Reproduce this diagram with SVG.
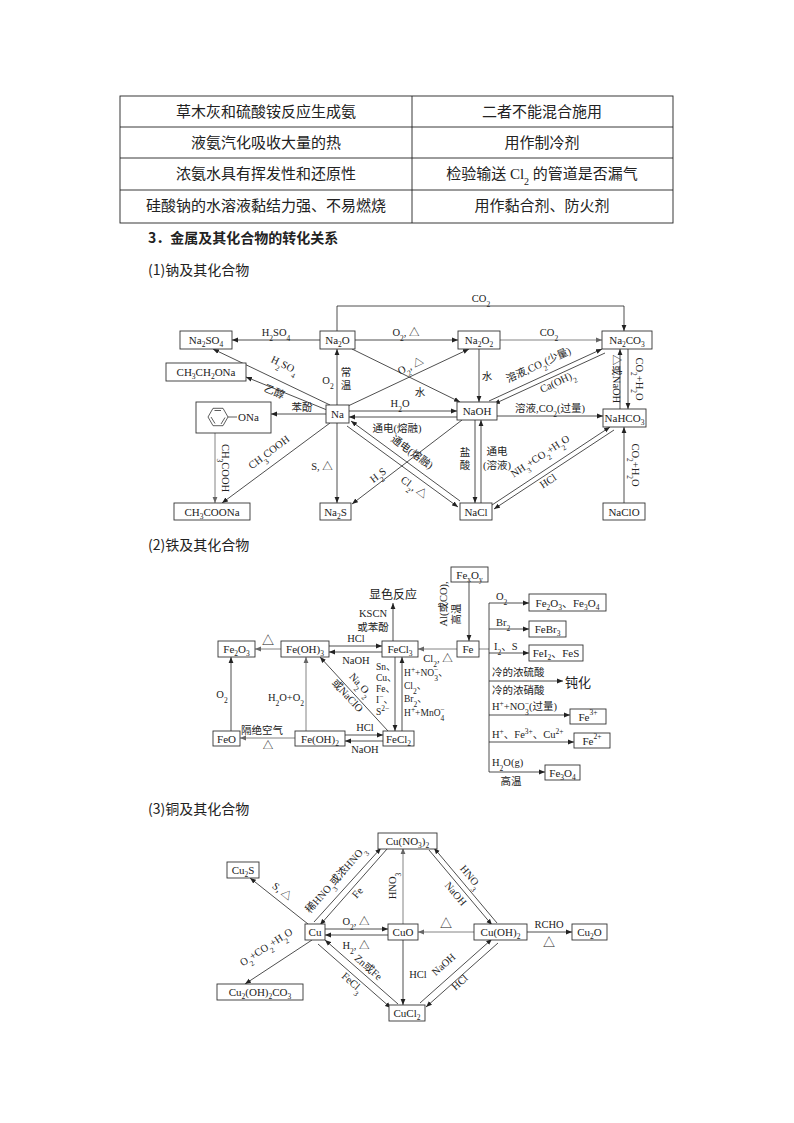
<svg xmlns="http://www.w3.org/2000/svg" width="794" height="1123" viewBox="0 0 794 1123">
<defs>
<marker id="a" viewBox="0 0 10 10" refX="10" refY="5" markerWidth="6" markerHeight="6" markerUnits="userSpaceOnUse" orient="auto"><path d="M0,1 L10,5 L0,9 Z" fill="#222"/></marker>
<marker id="g" viewBox="0 0 10 10" refX="10" refY="5" markerWidth="6" markerHeight="6" markerUnits="userSpaceOnUse" orient="auto"><path d="M0,1 L10,5 L0,9 Z" fill="#666"/></marker>
</defs>
<style>
text{font-family:"Liberation Serif","Noto Sans CJK SC",serif;font-size:10.5px;fill:#222}
.t{text-anchor:middle;dominant-baseline:central;font-size:11px}
.m{text-anchor:middle}
.cj{font-family:"Noto Sans CJK SC",sans-serif;font-size:15px}
.h{font-family:"Noto Sans CJK SC",sans-serif;font-size:14px}
.s{font-size:7.5px;baseline-shift:sub}
.p{font-size:7.5px;baseline-shift:super}
.sm{font-size:9.5px}
rect.b{fill:#fff;stroke:#333;stroke-width:0.9}
.c line,.c polyline,.c path{stroke:#222;stroke-width:0.8;fill:none;marker-end:url(#a)}
.c .gr{stroke:#666;marker-end:url(#g)}
.c .n{marker-end:none}
</style>
<rect width="794" height="1123" fill="#fff"/>
<g id="table" fill="none" stroke="#222" stroke-width="0.9">
<rect x="120" y="96" width="553" height="127"/>
<line x1="120" y1="127" x2="673" y2="127"/><line x1="120" y1="158" x2="673" y2="158"/><line x1="120" y1="190" x2="673" y2="190"/>
<line x1="412" y1="96" x2="412" y2="223"/>
</g>
<g id="table-text" class="cj">
<text x="266" y="117" class="m" style="font-size:15px">草木灰和硫酸铵反应生成氨</text>
<text x="542" y="117" class="m" style="font-size:15px">二者不能混合施用</text>
<text x="266" y="148" class="m" style="font-size:15px">液氨汽化吸收大量的热</text>
<text x="542" y="148" class="m" style="font-size:15px">用作制冷剂</text>
<text x="266" y="179" class="m" style="font-size:15px">浓氨水具有挥发性和还原性</text>
<text x="542" y="179" class="m" style="font-size:15px">检验输送 <tspan style="font-family:'Liberation Serif'">Cl<tspan class="s" style="font-size:10px">2</tspan></tspan> 的管道是否漏气</text>
<text x="266" y="211" class="m" style="font-size:15px">硅酸钠的水溶液黏结力强、不易燃烧</text>
<text x="542" y="211" class="m" style="font-size:15px">用作黏合剂、防火剂</text>
</g>
<g id="headings">
<text x="148" y="243" class="h" style="font-weight:bold">3．金属及其化合物的转化关系</text>
<text x="148" y="275" class="h">(1)钠及其化合物</text>
<text x="148" y="550" class="h">(2)铁及其化合物</text>
<text x="148" y="814" class="h">(3)铜及其化合物</text>
</g>

<g id="na-connectors" class="c">
<polyline points="337,331 337,306 624,306 624,331"/>
<line x1="320" y1="340" x2="232" y2="340"/>
<line x1="355" y1="340" x2="458" y2="340"/>
<line class="gr" x1="500" y1="340" x2="602" y2="340"/>
<line x1="337" y1="405" x2="337" y2="349"/>
<line x1="348" y1="406" x2="469" y2="349"/>
<line x1="352" y1="349" x2="460" y2="402"/>
<line x1="479" y1="349" x2="479" y2="402"/>
<line x1="330" y1="405" x2="213" y2="349"/>
<line x1="327" y1="410" x2="246" y2="377"/>
<line x1="326" y1="414" x2="271" y2="414"/>
<line x1="330" y1="423" x2="222" y2="503"/>
<line class="gr" x1="215" y1="433" x2="215" y2="503"/>
<line x1="337" y1="423" x2="337" y2="503"/>
<line x1="349" y1="411" x2="457" y2="411"/>
<line x1="457" y1="417" x2="349" y2="417"/>
<line x1="460" y1="501" x2="351" y2="421"/>
<line x1="347" y1="426" x2="458" y2="507"/>
<line x1="462" y1="420" x2="352" y2="504"/>
<line x1="475" y1="420" x2="475" y2="503"/>
<line x1="481" y1="503" x2="481" y2="420"/>
<line x1="497" y1="416" x2="603" y2="416"/>
<line x1="489" y1="401" x2="602" y2="349"/>
<line x1="605" y1="353" x2="494" y2="404"/>
<line x1="620" y1="409" x2="620" y2="349"/>
<line x1="628" y1="349" x2="628" y2="409"/>
<line x1="492" y1="505" x2="610" y2="427"/>
<line x1="614" y1="430" x2="494" y2="509"/>
<line x1="624" y1="503" x2="624" y2="427"/>
</g>
<g id="na-labels">
<text x="481" y="302" class="m">CO<tspan class="s">2</tspan></text>
<text x="276" y="336" class="m">H<tspan class="s">2</tspan>SO<tspan class="s">4</tspan></text>
<text x="406" y="336" class="m">O<tspan class="s">2</tspan>, △</text>
<text x="549" y="336" class="m">CO<tspan class="s">2</tspan></text>
<text x="328" y="384" class="m">O<tspan class="s">2</tspan></text>
<text x="346" y="376" class="m">常</text><text x="346" y="389" class="m">温</text>
<text class="m" transform="translate(412,369) rotate(-25)">O<tspan class="s">2</tspan>, △</text>
<text x="420" y="396" class="m">水</text>
<text x="487" y="380" class="m">水</text>
<text class="m" transform="translate(283,368) rotate(26)">H<tspan class="s">2</tspan>SO<tspan class="s">4</tspan></text>
<text class="m" transform="translate(273,395) rotate(22)">乙醇</text>
<text x="302" y="411" class="m">苯酚</text>
<text class="m" transform="translate(271,455) rotate(-37)">CH<tspan class="s">3</tspan>COOH</text>
<text class="m" transform="translate(222,468) rotate(90)">CH<tspan class="s">3</tspan>COOH</text>
<text x="322" y="470" class="m">S, △</text>
<text x="400" y="407" class="m">H<tspan class="s">2</tspan>O</text>
<text x="397" y="432" class="m">通电(熔融)</text>
<text class="m" transform="translate(410,455) rotate(36)">通电(熔融)</text>
<text class="m" transform="translate(412,490) rotate(36)">Cl<tspan class="s">2</tspan>, △</text>
<text class="m" transform="translate(380,478) rotate(-37)">H<tspan class="s">2</tspan>S</text>
<text x="465" y="456" class="m">盐</text><text x="465" y="469" class="m">酸</text>
<text x="497" y="455" class="m">通电</text><text x="497" y="469" class="m">(溶液)</text>
<text x="550" y="412" class="m">溶液,CO<tspan class="s">2</tspan>(过量)</text>
<text class="m" transform="translate(540,368) rotate(-25)">溶液,CO<tspan class="s">2</tspan>(少量)</text>
<text class="m" transform="translate(559,385) rotate(-25)">Ca(OH)<tspan class="s">2</tspan></text>
<text class="m" transform="translate(613,379) rotate(90)">△或NaOH</text>
<text class="m" transform="translate(636,379) rotate(90)">CO<tspan class="s">2</tspan>+H<tspan class="s">2</tspan>O</text>
<text class="m" transform="translate(542,459) rotate(-33.5)">NH<tspan class="s">3</tspan>+CO<tspan class="s">2</tspan>+H<tspan class="s">2</tspan>O</text>
<text class="m" transform="translate(550,484) rotate(-33.5)">HCl</text>
<text class="m" transform="translate(632,465) rotate(90)">CO<tspan class="s">2</tspan>+H<tspan class="s">2</tspan>O</text>
</g>
<g id="Na2SO4"><rect class="b" x="180" y="331" width="52" height="18"/><text class="t" x="206" y="340">Na<tspan class="s">2</tspan>SO<tspan class="s">4</tspan></text></g>
<g id="Na2O"><rect class="b" x="320" y="331" width="35" height="18"/><text class="t" x="337.5" y="340">Na<tspan class="s">2</tspan>O</text></g>
<g id="Na2O2"><rect class="b" x="458" y="331" width="42" height="18"/><text class="t" x="479" y="340">Na<tspan class="s">2</tspan>O<tspan class="s">2</tspan></text></g>
<g id="Na2CO3"><rect class="b" x="602" y="331" width="50" height="18"/><text class="t" x="627" y="340">Na<tspan class="s">2</tspan>CO<tspan class="s">3</tspan></text></g>
<g id="CH3CH2ONa"><rect class="b" x="166" y="363" width="80" height="18"/><text class="t" x="206" y="372">CH<tspan class="s">3</tspan>CH<tspan class="s">2</tspan>ONa</text></g>
<g id="PhONa"><rect class="b" x="196" y="402" width="75" height="31"/>
<g fill="none" stroke="#333" stroke-width="0.8"><polygon points="228,417 223,408.3 213,408.3 208,417 213,425.7 223,425.7"/><line x1="221" y1="410.5" x2="214.5" y2="410.5"/><line x1="225" y1="417.5" x2="221" y2="424"/><line x1="211" y1="417" x2="215" y2="423.5"/><line x1="228" y1="417" x2="237" y2="417"/></g>
<text x="238" y="417" style="dominant-baseline:central;font-size:11px">ONa</text></g>
<g id="Na"><rect class="b" x="326" y="405" width="23" height="18"/><text class="t" x="337.5" y="414">Na</text></g>
<g id="NaOH"><rect class="b" x="457" y="402" width="40" height="18"/><text class="t" x="477" y="411">NaOH</text></g>
<g id="NaHCO3"><rect class="b" x="603" y="409" width="43" height="18"/><text class="t" x="624.5" y="418">NaHCO<tspan class="s">3</tspan></text></g>
<g id="CH3COONa"><rect class="b" x="174" y="503" width="76" height="17"/><text class="t" x="212" y="511.5">CH<tspan class="s">3</tspan>COONa</text></g>
<g id="Na2S"><rect class="b" x="320" y="503" width="31" height="17"/><text class="t" x="335.5" y="511.5">Na<tspan class="s">2</tspan>S</text></g>
<g id="NaCl"><rect class="b" x="460" y="503" width="32" height="17"/><text class="t" x="476" y="511.5">NaCl</text></g>
<g id="NaClO"><rect class="b" x="603" y="503" width="42" height="17"/><text class="t" x="624" y="511.5">NaClO</text></g>

<g id="fe-connectors" class="c">
<line x1="393" y1="641" x2="393" y2="603"/>
<line class="gr" x1="457" y1="649" x2="418" y2="649"/>
<line x1="329" y1="646" x2="382" y2="646"/>
<line x1="382" y1="652" x2="329" y2="652"/>
<line class="gr" x1="281" y1="649" x2="255" y2="649"/>
<line x1="231" y1="731" x2="231" y2="657"/>
<line class="gr" x1="306" y1="731" x2="306" y2="657"/>
<line class="gr" x1="295" y1="738" x2="240" y2="738"/>
<line x1="345" y1="735" x2="383" y2="735"/>
<line x1="383" y1="741" x2="345" y2="741"/>
<line x1="388" y1="731" x2="320" y2="657"/>
<line x1="395" y1="657" x2="395" y2="731"/>
<line x1="402" y1="731" x2="402" y2="657"/>
<line x1="469" y1="581" x2="469" y2="641"/>
<line class="gr n" x1="479" y1="649" x2="489" y2="649"/>
<line class="n" x1="489" y1="603" x2="489" y2="772"/>
<line x1="489" y1="603" x2="529" y2="603"/>
<line x1="489" y1="629" x2="529" y2="629"/>
<line x1="489" y1="653" x2="529" y2="653"/>
<line x1="489" y1="681" x2="563" y2="681"/>
<line x1="489" y1="715" x2="570" y2="715"/>
<line x1="489" y1="742" x2="574" y2="742"/>
<line x1="489" y1="772" x2="545" y2="772"/>
</g>
<g id="fe-labels">
<text x="393" y="599" class="m" style="font-size:12px">显色反应</text>
<text x="373" y="617" class="m">KSCN</text>
<text x="373" y="631" class="m">或苯酚</text>
<text x="438" y="662" class="m">Cl<tspan class="s">2</tspan>, △</text>
<text x="356" y="642" class="m">HCl</text>
<text x="356" y="664" class="m">NaOH</text>
<text x="268" y="645" class="m" style="font-size:12px">△</text>
<text x="222" y="698" class="m">O<tspan class="s">2</tspan></text>
<text x="286" y="701" class="m">H<tspan class="s">2</tspan>O+O<tspan class="s">2</tspan></text>
<text x="262" y="734" class="m">隔绝空气</text>
<text x="268" y="749" class="m">△</text>
<text x="365" y="731" class="m">HCl</text>
<text x="365" y="753" class="m">NaOH</text>
<text class="m" transform="translate(358,687) rotate(47)">Na<tspan class="s">2</tspan>O<tspan class="s">2</tspan></text>
<text class="m" transform="translate(345,698) rotate(47)">或NaClO</text>
<text x="376" y="670" class="sm">Sn、</text>
<text x="376" y="681" class="sm">Cu、</text>
<text x="376" y="692" class="sm">Fe、</text>
<text x="376" y="703" class="sm">I<tspan class="p">−</tspan>、</text>
<text x="376" y="715" class="sm">S<tspan class="p">2−</tspan></text>
<text x="404" y="676" class="sm">H<tspan class="p">+</tspan>+NO<tspan class="s">3</tspan><tspan class="p" dx="-4">−</tspan>、</text>
<text x="404" y="689" class="sm">Cl<tspan class="s">2</tspan>、</text>
<text x="404" y="702" class="sm">Br<tspan class="s">2</tspan>、</text>
<text x="404" y="716" class="sm">H<tspan class="p">+</tspan>+MnO<tspan class="s">4</tspan><tspan class="p" dx="-4">−</tspan></text>
<text class="m" transform="translate(447,604) rotate(-90)">Al(或CO),</text>
<text class="m" transform="translate(460,614) rotate(-90)">高温</text>
<text x="496" y="600">O<tspan class="s">2</tspan></text>
<text x="496" y="626">Br<tspan class="s">2</tspan></text>
<text x="494" y="650">I<tspan class="s">2</tspan>、S</text>
<text x="492" y="676">冷的浓硫酸</text>
<text x="492" y="694">冷的浓硝酸</text>
<text x="565" y="687" style="font-size:13px">钝化</text>
<text x="492" y="710">H<tspan class="p">+</tspan>+NO<tspan class="s">3</tspan><tspan class="p" dx="-4">−</tspan>(过量)</text>
<text x="492" y="738">H<tspan class="p">+</tspan>、Fe<tspan class="p">3+</tspan>、Cu<tspan class="p">2+</tspan></text>
<text x="492" y="766">H<tspan class="s">2</tspan>O(g)</text>
<text x="511" y="785" class="m">高温</text>
</g>
<g id="Fe2O3"><rect class="b" x="218" y="641" width="37" height="16"/><text class="t" x="236.5" y="649">Fe<tspan class="s">2</tspan>O<tspan class="s">3</tspan></text></g>
<g id="FeOH3"><rect class="b" x="281" y="641" width="48" height="16"/><text class="t" x="305" y="649">Fe(OH)<tspan class="s">3</tspan></text></g>
<g id="FeCl3"><rect class="b" x="382" y="641" width="36" height="16"/><text class="t" x="400" y="649">FeCl<tspan class="s">3</tspan></text></g>
<g id="Fe"><rect class="b" x="457" y="641" width="22" height="16"/><text class="t" x="468" y="649">Fe</text></g>
<g id="FexOy"><rect class="b" x="451" y="567" width="37" height="15"/><text class="t" x="469.5" y="574.5">Fe<tspan class="s">x</tspan>O<tspan class="s">y</tspan></text></g>
<g id="FeO"><rect class="b" x="213" y="731" width="27" height="15"/><text class="t" x="226.5" y="738.5">FeO</text></g>
<g id="FeOH2"><rect class="b" x="295" y="731" width="50" height="15"/><text class="t" x="320" y="738.5">Fe(OH)<tspan class="s">2</tspan></text></g>
<g id="FeCl2"><rect class="b" x="383" y="731" width="31" height="15"/><text class="t" x="398.5" y="738.5">FeCl<tspan class="s">2</tspan></text></g>
<g id="Fe2O3Fe3O4"><rect class="b" x="529" y="594" width="77" height="17"/><text class="t" x="567.5" y="602.5">Fe<tspan class="s">2</tspan>O<tspan class="s">3</tspan>、Fe<tspan class="s">3</tspan>O<tspan class="s">4</tspan></text></g>
<g id="FeBr3"><rect class="b" x="529" y="621" width="37" height="16"/><text class="t" x="547.5" y="629">FeBr<tspan class="s">3</tspan></text></g>
<g id="FeI2FeS"><rect class="b" x="529" y="645" width="54" height="16"/><text class="t" x="556" y="653">FeI<tspan class="s">2</tspan>、FeS</text></g>
<g id="Fe3plus"><rect class="b" x="570" y="709" width="36" height="15"/><text class="t" x="588" y="716.5">Fe<tspan class="p">3+</tspan></text></g>
<g id="Fe2plus"><rect class="b" x="574" y="733" width="36" height="15"/><text class="t" x="592" y="740.5">Fe<tspan class="p">2+</tspan></text></g>
<g id="Fe3O4"><rect class="b" x="545" y="765" width="35" height="15"/><text class="t" x="562.5" y="772.5">Fe<tspan class="s">3</tspan>O<tspan class="s">4</tspan></text></g>

<g id="cu-connectors" class="c">
<line x1="308" y1="924" x2="250" y2="878"/>
<line x1="314" y1="922" x2="381" y2="848"/>
<line x1="387" y1="849" x2="320" y2="925"/>
<line class="gr" x1="403" y1="924" x2="403" y2="848"/>
<line x1="497" y1="923" x2="434" y2="848"/>
<line x1="429" y1="850" x2="492" y2="925"/>
<line x1="325" y1="929" x2="388" y2="929"/>
<line x1="388" y1="935" x2="325" y2="935"/>
<line class="gr" x1="474" y1="932" x2="418" y2="932"/>
<line x1="527" y1="932" x2="572" y2="932"/>
<line x1="312" y1="940" x2="245" y2="984"/>
<line x1="398" y1="1004" x2="325" y2="940"/>
<line x1="318" y1="944" x2="391" y2="1008"/>
<line x1="403" y1="940" x2="403" y2="1005"/>
<line x1="420" y1="1003" x2="492" y2="939"/>
<line x1="498" y1="943" x2="426" y2="1007"/>
</g>
<g id="cu-labels">
<text class="m" transform="translate(280,894) rotate(38)">S, △</text>
<text class="m" transform="translate(338,882) rotate(-48.6)">稀HNO<tspan class="s">3</tspan>或浓HNO<tspan class="s">3</tspan></text>
<text class="m" transform="translate(360,895) rotate(-48.6)">Fe</text>
<text class="m" transform="translate(396,886) rotate(-90)">HNO<tspan class="s">3</tspan></text>
<text class="m" transform="translate(468,879) rotate(50)">HNO<tspan class="s">3</tspan></text>
<text class="m" transform="translate(453,896) rotate(50)">NaOH</text>
<text x="356" y="925" class="m">O<tspan class="s">2</tspan>, △</text>
<text x="356" y="949" class="m">H<tspan class="s">2</tspan>, △</text>
<text x="446" y="928" class="m" style="font-size:12px">△</text>
<text x="549" y="928" class="m">RCHO</text>
<text x="549" y="947" class="m" style="font-size:12px">△</text>
<text class="m" transform="translate(268,950) rotate(-33)">O<tspan class="s">2</tspan>+CO<tspan class="s">2</tspan>+H<tspan class="s">2</tspan>O</text>
<text class="m" transform="translate(366,970) rotate(41)">Zn或Fe</text>
<text class="m" transform="translate(350,985) rotate(41)">FeCl<tspan class="s">3</tspan></text>
<text x="418" y="978" class="m">HCl</text>
<text class="m" transform="translate(446,967) rotate(-42)">NaOH</text>
<text class="m" transform="translate(462,985) rotate(-42)">HCl</text>
</g>
<g id="CuNO32"><rect class="b" x="378" y="833" width="59" height="16"/><text class="t" x="407.5" y="841">Cu(NO<tspan class="s">3</tspan>)<tspan class="s">2</tspan></text></g>
<g id="Cu2S"><rect class="b" x="227" y="862" width="32" height="16"/><text class="t" x="243" y="870">Cu<tspan class="s">2</tspan>S</text></g>
<g id="Cu"><rect class="b" x="305" y="924" width="20" height="16"/><text class="t" x="315" y="932">Cu</text></g>
<g id="CuO"><rect class="b" x="388" y="924" width="30" height="16"/><text class="t" x="403" y="932">CuO</text></g>
<g id="CuOH2"><rect class="b" x="474" y="924" width="53" height="16"/><text class="t" x="500.5" y="932">Cu(OH)<tspan class="s">2</tspan></text></g>
<g id="Cu2O"><rect class="b" x="572" y="924" width="35" height="16"/><text class="t" x="589.5" y="932">Cu<tspan class="s">2</tspan>O</text></g>
<g id="Cu2OH2CO3"><rect class="b" x="217" y="984" width="86" height="16"/><text class="t" x="260" y="992">Cu<tspan class="s">2</tspan>(OH)<tspan class="s">2</tspan>CO<tspan class="s">3</tspan></text></g>
<g id="CuCl2"><rect class="b" x="389" y="1005" width="36" height="16"/><text class="t" x="407" y="1013">CuCl<tspan class="s">2</tspan></text></g>
</svg>
